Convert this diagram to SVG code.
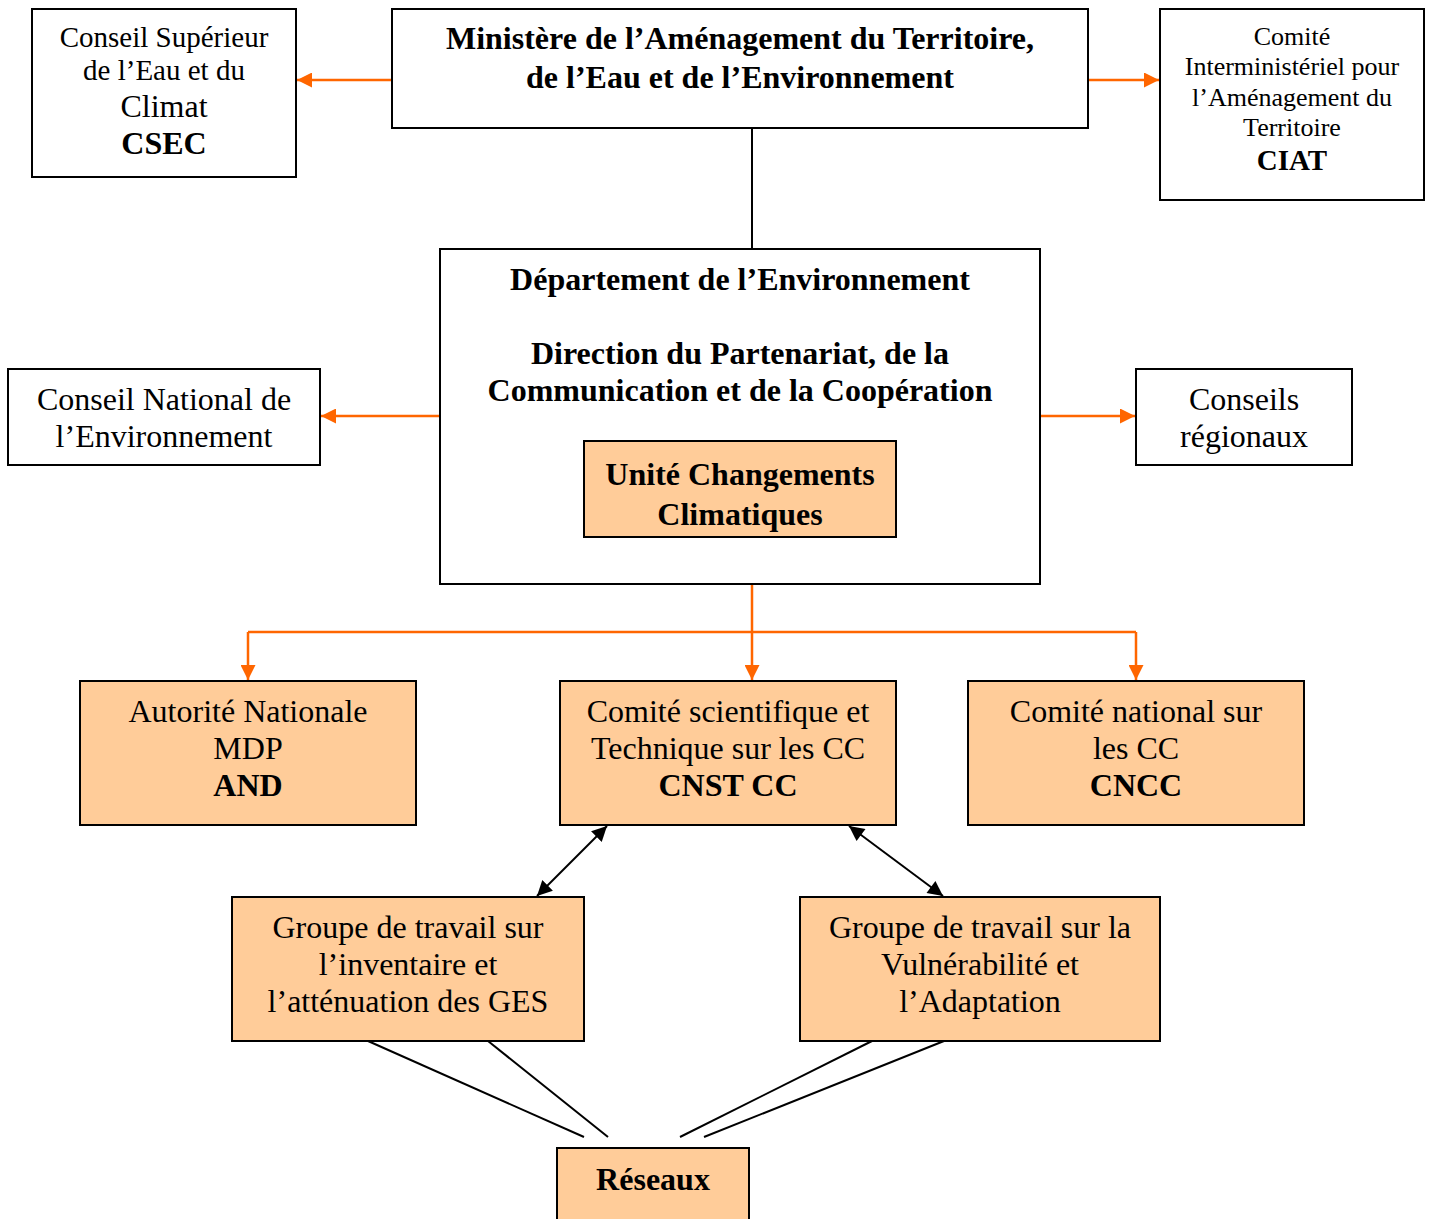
<svg xmlns="http://www.w3.org/2000/svg" width="1432" height="1219" viewBox="0 0 1432 1219">
<style>
.box{fill:#fff;stroke:#000;stroke-width:2}
.fbox{fill:#FFCC99;stroke:#000;stroke-width:2}
text{font-family:"Liberation Serif","Times New Roman",serif;text-anchor:middle;fill:#000}
.r{font-size:32px}
.b{font-size:32px;font-weight:bold}
.o{stroke:#FF6600;stroke-width:2.5;fill:none}
.k{stroke:#000;stroke-width:2;fill:none}
</style>
<defs>
<marker id="ao" viewBox="0 0 10 10" refX="10" refY="5" markerWidth="15" markerHeight="15" markerUnits="userSpaceOnUse" orient="auto"><path d="M0,0 L10,5 L0,10 z" fill="#FF6600"/></marker>
<marker id="ak" viewBox="0 0 10 10" refX="10" refY="5" markerWidth="16" markerHeight="15" markerUnits="userSpaceOnUse" orient="auto-start-reverse"><path d="M0,0 L10,5 L0,10 z" fill="#000"/></marker>
</defs>
<rect width="1432" height="1219" fill="#fff"/>
<g id="connectors">
<path class="o" d="M392,80 H297" marker-end="url(#ao)"/>
<path class="o" d="M1088,80 H1159" marker-end="url(#ao)"/>
<path class="k" d="M752,128 V249"/>
<path class="o" d="M440,416 H321" marker-end="url(#ao)"/>
<path class="o" d="M1040,416 H1135" marker-end="url(#ao)"/>
<path class="o" d="M752,584 V680" marker-end="url(#ao)"/>
<path class="o" d="M248,632 H1136"/>
<path class="o" d="M248,632 V680" marker-end="url(#ao)"/>
<path class="o" d="M1136,632 V680" marker-end="url(#ao)"/>
<path class="k" d="M607,826 L537,896" marker-start="url(#ak)" marker-end="url(#ak)"/>
<path class="k" d="M849,826 L943,896" marker-start="url(#ak)" marker-end="url(#ak)"/>
<path class="k" d="M368,1041 L584,1137"/>
<path class="k" d="M488,1041 L608,1137"/>
<path class="k" d="M872,1041 L680,1137"/>
<path class="k" d="M944,1041 L704,1137"/>
</g>
<g id="csec"><rect class="box" x="32" y="9" width="264" height="168"/>
<text x="164" y="47" style="font-size:29px">Conseil Supérieur</text>
<text x="164" y="80" style="font-size:29px">de l’Eau et du</text>
<text x="164" y="117" class="r">Climat</text>
<text x="164" y="154" class="b">CSEC</text></g>
<g id="ministere"><rect class="box" x="392" y="9" width="696" height="119"/>
<text x="740" y="49" class="b">Ministère de l’Aménagement du Territoire,</text>
<text x="740" y="88" class="b">de l’Eau et de l’Environnement</text></g>
<g id="ciat"><rect class="box" x="1160" y="9" width="264" height="191"/>
<text x="1292" y="45" style="font-size:26px">Comité</text>
<text x="1292" y="75" style="font-size:26px">Interministériel pour</text>
<text x="1292" y="106" style="font-size:26px">l’Aménagement du</text>
<text x="1292" y="136" style="font-size:26px">Territoire</text>
<text x="1292" y="170" style="font-size:29px;font-weight:bold">CIAT</text></g>
<g id="departement"><rect class="box" x="440" y="249" width="600" height="335"/>
<text x="740" y="290" class="b">Département de l’Environnement</text>
<text x="740" y="364" class="b">Direction du Partenariat, de la</text>
<text x="740" y="401" class="b">Communication et de la Coopération</text></g>
<g id="unite"><rect class="fbox" x="584" y="441" width="312" height="96"/>
<text x="740" y="485" class="b">Unité Changements</text>
<text x="740" y="525" class="b">Climatiques</text></g>
<g id="cne"><rect class="box" x="8" y="369" width="312" height="96"/>
<text x="164" y="410" class="r">Conseil National de</text>
<text x="164" y="447" class="r">l’Environnement</text></g>
<g id="regionaux"><rect class="box" x="1136" y="369" width="216" height="96"/>
<text x="1244" y="410" class="r">Conseils</text>
<text x="1244" y="447" class="r">régionaux</text></g>
<g id="and"><rect class="fbox" x="80" y="681" width="336" height="144"/>
<text x="248" y="722" class="r">Autorité Nationale</text>
<text x="248" y="759" class="r">MDP</text>
<text x="248" y="796" class="b">AND</text></g>
<g id="cnstcc"><rect class="fbox" x="560" y="681" width="336" height="144"/>
<text x="728" y="722" class="r">Comité scientifique et</text>
<text x="728" y="759" class="r">Technique sur les CC</text>
<text x="728" y="796" class="b">CNST CC</text></g>
<g id="cncc"><rect class="fbox" x="968" y="681" width="336" height="144"/>
<text x="1136" y="722" class="r">Comité national sur</text>
<text x="1136" y="759" class="r">les CC</text>
<text x="1136" y="796" class="b">CNCC</text></g>
<g id="ges"><rect class="fbox" x="232" y="897" width="352" height="144"/>
<text x="408" y="938" class="r">Groupe de travail sur</text>
<text x="408" y="975" class="r">l’inventaire et</text>
<text x="408" y="1012" class="r">l’atténuation des GES</text></g>
<g id="vulnerabilite"><rect class="fbox" x="800" y="897" width="360" height="144"/>
<text x="980" y="938" class="r">Groupe de travail sur la</text>
<text x="980" y="975" class="r">Vulnérabilité et</text>
<text x="980" y="1012" class="r">l’Adaptation</text></g>
<g id="reseaux"><rect class="fbox" x="557" y="1148" width="192" height="80"/>
<text x="653" y="1190" class="b">Réseaux</text></g>
</svg>
